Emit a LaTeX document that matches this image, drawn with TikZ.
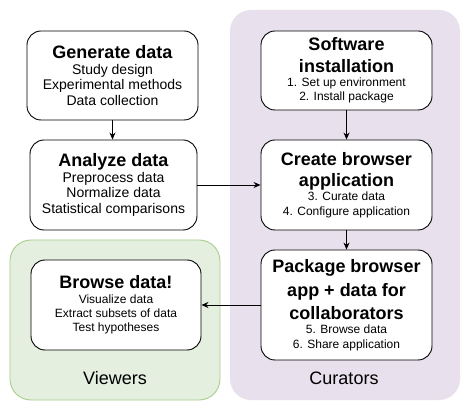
\documentclass[tikz,border=0pt]{standalone}
\usepackage{fontspec}
\setmainfont{Liberation Sans}
\usetikzlibrary{arrows.meta}
\definecolor{curfill}{RGB}{232,224,236}
\definecolor{viewfill}{RGB}{228,239,223}
\definecolor{viewline}{RGB}{166,207,142}
\newcommand{\ttl}{\fontsize{18}{21}\selectfont\bfseries}
\newcommand{\bodyL}{\fontsize{14}{15.6}\selectfont\mdseries}
\newcommand{\bodyS}{\fontsize{12}{14.2}\selectfont\mdseries}
\begin{document}
\begin{tikzpicture}[x=1pt,y=-1pt,
  stepbox/.style={draw=black, line width=0.9pt, fill=white, rounded corners=14pt, align=center, inner sep=0pt},
  large/.style={stepbox, font=\bodyL},
  small/.style={stepbox, font=\bodyS},
  conn/.style={line width=0.9pt, -{Stealth[length=7pt,width=6pt]}},
  curbg/.style={fill=curfill, rounded corners=21pt, inner sep=0pt},
  viewbg/.style={fill=viewfill, draw=viewline, line width=0.9pt, rounded corners=21pt, inner sep=0pt},
  grouplabel/.style={font=\fontsize{18}{21}\selectfont, inner sep=0pt}]
\useasboundingbox (0,0) rectangle (471,411);
\fill[white] (0,0) rectangle (471,411);
% backgrounds
\node[curbg, minimum width=230pt, minimum height=390pt] (cur) at (345,205) {};
\node[viewbg, minimum width=210pt, minimum height=160pt] (view) at (115,320) {};
\node[grouplabel] (curlab) at (344,378) {Curators};
\node[grouplabel] (viewlab) at (115,378) {Viewers};
% boxes
\node[large, minimum width=171pt, minimum height=89pt] (gen) at (112.5,75.5)
  {\ttl Generate data\\Study design\\Experimental methods\\Data collection};
\node[large, minimum width=167pt, minimum height=90pt] (ana) at (113.5,185)
  {\ttl Analyze data\\Preprocess data\\Normalize data\\Statistical comparisons};
\node[small, minimum width=171pt, minimum height=79pt] (sw) at (346.5,70.5)
  {\ttl Software\\[7pt]\ttl installation\\1. Set up environment\\2. Install package};
\node[small, minimum width=171pt, minimum height=90pt] (cb) at (346.5,185)
  {\ttl Create browser\\[7pt]\ttl application\\3. Curate data\\4. Configure application};
\node[small, minimum width=171pt, minimum height=110pt] (pk) at (346.5,305)
  {\ttl Package browser\\[5.8pt]\ttl app + data for\\[5.8pt]\ttl collaborators\\5. Browse data\\6. Share application};
\node[small, minimum width=170pt, minimum height=90pt] (br) at (116,305)
  {\ttl Browse data!\\Visualize data\\Extract subsets of data\\Test hypotheses};
% connectors
\draw[conn] (gen.south) -- (gen.south |- ana.north);
\draw[conn] (ana.east) -- (cb.west);
\draw[conn] (sw.south) -- (cb.north);
\draw[conn] (cb.south) -- (pk.north);
\draw[conn] (pk.west) -- (br.east);
\end{tikzpicture}
\end{document}
